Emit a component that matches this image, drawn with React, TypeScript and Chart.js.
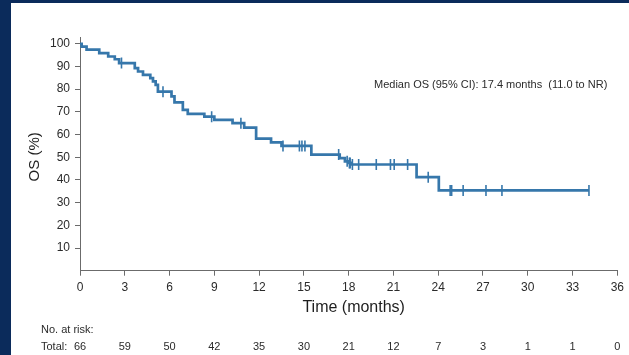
import React, { useEffect, useRef } from "react";
import { Chart, registerables } from "chart.js";

Chart.register(...registerables);

// Kaplan-Meier overall survival (months, OS %)
const eventTimes = [0, 0.11, 0.44, 1.29, 1.89, 2.33, 2.62, 3.67, 3.89, 4.22, 4.71, 4.89, 5.07, 5.22, 6.13, 6.33, 6.89, 7.22, 8.33, 9.0, 10.22, 11.0, 11.8, 12.8, 13.5, 15.5, 17.4, 17.75, 18.0, 18.15, 22.55, 24.04, 34.1];
const survival = [100, 98.8, 97.4, 95.9, 94.4, 93.2, 91.5, 89.3, 87.8, 86.3, 84.9, 83.4, 81.9, 78.9, 76.8, 74.2, 70.9, 69.1, 67.9, 66.5, 65.0, 63.1, 58.2, 56.6, 55.0, 51.2, 49.6, 48.2, 47.5, 46.8, 41.2, 35.4, 35.4];
const censorTimes = [2.78, 5.56, 8.82, 10.78, 13.6, 14.7, 14.87, 15.07, 17.33, 17.9, 18.05, 18.1, 18.25, 18.67, 19.85, 20.8, 21.05, 21.95, 23.33, 24.8, 24.9, 25.67, 27.2, 28.27, 34.1];

const xTicks = [0, 3, 6, 9, 12, 15, 18, 21, 24, 27, 30, 33, 36];
const yTicks = [10, 20, 30, 40, 50, 60, 70, 80, 90, 100];
const riskTimes = [0, 3, 6, 9, 12, 15, 18, 21, 24, 27, 30, 33, 36];
const riskCounts = [66, 59, 50, 42, 35, 30, 21, 12, 7, 3, 1, 1, 0];

const medianText = "Median OS (95% CI): 17.4 months  (11.0 to NR)";
const xTitle = "Time (months)";
const yTitle = "OS (%)";
const riskTitle = "No. at risk:";
const riskRowLabel = "Total:";

const CURVE = "#3677ab";
const AXIS = "#6b6b6b";
const TEXT = "#2b2b2b";
const FONT = "'Liberation Sans', Arial, sans-serif";

function survivalAt(t: number): number {
  let v = survival[0];
  for (let i = 0; i < eventTimes.length; i++) {
    if (eventTimes[i] <= t) v = survival[i];
  }
  return v;
}

const decorPlugin = {
  id: "decor",
  beforeDraw(chart: any) {
    const ctx = chart.ctx;
    ctx.save();
    ctx.fillStyle = "#0b2b5b";
    ctx.fillRect(0, 0, chart.width, chart.height);
    ctx.fillStyle = "#ffffff";
    ctx.fillRect(11, 3, chart.width - 11, chart.height - 3);
    ctx.restore();
  },
  afterDraw(chart: any) {
    const ctx = chart.ctx;
    const xs = chart.scales.x;
    const area = chart.chartArea;
    ctx.save();
    ctx.fillStyle = TEXT;
    // y title
    ctx.save();
    ctx.translate(35, (area.top + area.bottom) / 2 + 3);
    ctx.rotate(-Math.PI / 2);
    ctx.font = `15px ${FONT}`;
    ctx.textAlign = "center";
    ctx.textBaseline = "middle";
    ctx.fillStyle = "#1e1e1e";
    ctx.fillText(yTitle, 0, 0);
    ctx.restore();
    // x title
    ctx.font = `16px ${FONT}`;
    ctx.textAlign = "center";
    ctx.textBaseline = "middle";
    ctx.fillStyle = "#1e1e1e";
    ctx.fillText(xTitle, (area.left + area.right) / 2 + 5, 308);
    // median text
    ctx.font = `11px ${FONT}`;
    ctx.textAlign = "left";
    ctx.fillStyle = TEXT;
    ctx.fillText(medianText, 374, 85);
    // risk table
    ctx.font = `11px ${FONT}`;
    ctx.textAlign = "left";
    ctx.fillText(riskTitle, 41, 330);
    ctx.fillText(riskRowLabel, 41, 347);
    ctx.textAlign = "center";
    riskTimes.forEach((t, i) => {
      ctx.fillText(String(riskCounts[i]), xs.getPixelForValue(t), 347);
    });
    ctx.restore();
  },
};

export default function App() {
  const ref = useRef<HTMLCanvasElement | null>(null);
  useEffect(() => {
    if (!ref.current) return;
    const chart = new Chart(ref.current, {
      type: "line",
      data: {
        datasets: [
          {
            data: eventTimes.map((t, i) => ({ x: t, y: survival[i] })),
            stepped: true,
            borderColor: CURVE,
            borderWidth: 2.7,
            pointRadius: 0,
            fill: false,
          } as any,
          {
            type: "scatter",
            data: censorTimes.map((t) => ({ x: t, y: survivalAt(t) })),
            showLine: false,
            pointStyle: "line",
            pointRotation: 90,
            pointRadius: 5.5,
            pointBorderWidth: 1.6,
            pointBorderColor: CURVE,
            borderColor: CURVE,
            backgroundColor: CURVE,
          } as any,
        ],
      },
      options: {
        responsive: false,
        animation: false,
        layout: { padding: { left: 0, top: 37, right: 8, bottom: 0 } },
        plugins: { legend: { display: false }, tooltip: { enabled: false } },
        scales: {
          x: {
            type: "linear",
            min: 0,
            max: 36,
            afterBuildTicks: (s: any) => {
              s.ticks = xTicks.map((v) => ({ value: v }));
            },
            afterFit: (s: any) => {
              s.height = 84.3;
            },
            grid: { drawOnChartArea: false, drawTicks: true, tickLength: 5, color: AXIS },
            border: { display: true, color: AXIS, width: 1 },
            ticks: { color: TEXT, font: { family: FONT, size: 12 }, padding: 5, maxRotation: 0, autoSkip: false },
          },
          y: {
            type: "linear",
            min: 0,
            max: 103,
            afterBuildTicks: (s: any) => {
              s.ticks = yTicks.map((v) => ({ value: v }));
            },
            afterFit: (s: any) => {
              s.width = 80;
            },
            grid: { drawOnChartArea: false, drawTicks: true, tickLength: 5, color: AXIS },
            border: { display: true, color: AXIS, width: 1 },
            ticks: { color: TEXT, font: { family: FONT, size: 12 }, padding: 5, autoSkip: false },
          },
        },
      },
      plugins: [decorPlugin],
    } as any);
    return () => chart.destroy();
  }, []);
  return (
    <canvas
      ref={ref}
      width={629}
      height={355}
      style={{ position: "fixed", left: 0, top: 0, display: "block" }}
    />
  );
}
